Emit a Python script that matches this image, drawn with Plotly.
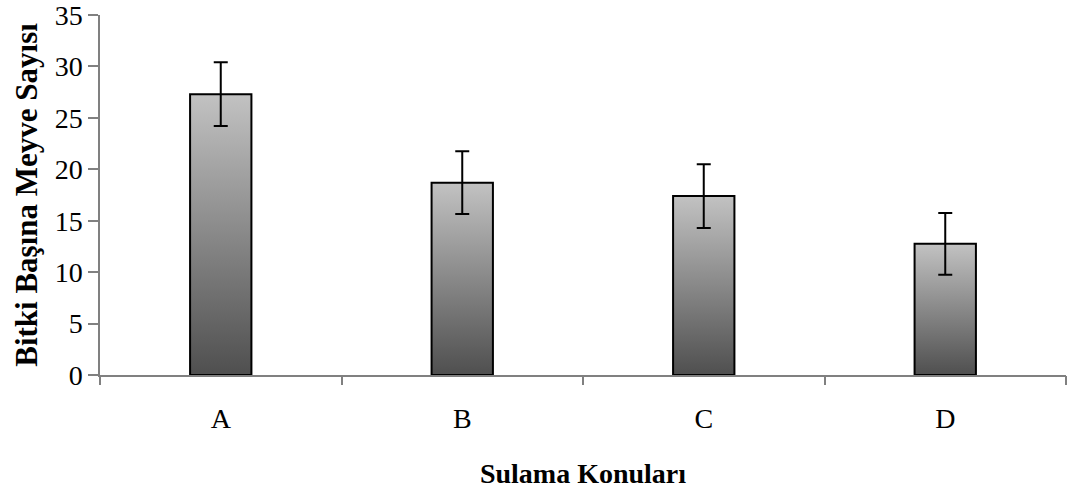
import plotly.graph_objects as go

categories = ["A", "B", "C", "D"]
means = [27.3, 18.7, 17.4, 12.75]
errors = [3.1, 3.05, 3.1, 3.0]
y_ticks = [0, 5, 10, 15, 20, 25, 30, 35]

half_w = 0.127
font_family = "Liberation Serif, Times New Roman, serif"

fig = go.Figure()

for i, (cat, m) in enumerate(zip(categories, means)):
    fig.add_trace(go.Scatter(
        x=[i - half_w, i + half_w, i + half_w, i - half_w, i - half_w],
        y=[0, 0, m, m, 0],
        mode="lines",
        fill="toself",
        fillgradient=dict(type="vertical",
                          colorscale=[[0, "#4f4f4f"], [1, "#c2c2c2"]]),
        line=dict(color="black", width=2),
        showlegend=False,
        hoverinfo="skip",
    ))

fig.add_trace(go.Scatter(
    x=list(range(len(categories))),
    y=means,
    mode="markers",
    marker=dict(size=1, opacity=0),
    error_y=dict(type="data", array=errors, visible=True,
                 color="black", thickness=2, width=7),
    showlegend=False,
))

fig.update_layout(
    width=1067, height=498,
    margin=dict(l=100, r=1, t=15, b=123),
    plot_bgcolor="white", paper_bgcolor="white",
    font=dict(family=font_family, size=28, color="black"),
    xaxis=dict(
        range=[-0.5, 3.5],
        tickvals=list(range(len(categories))),
        ticktext=categories,
        ticks="",
        ticklabelstandoff=18,
        showline=True, linecolor="#808080", linewidth=1.5,
        showgrid=False, zeroline=False,
        title=dict(text="<b>Sulama Konuları</b>", standoff=30,
                   font=dict(size=28)),
        tickfont=dict(size=28),
    ),
    xaxis2=dict(
        overlaying="x", matches="x", side="bottom",
        range=[-0.5, 3.5],
        tickvals=[-0.5, 0.5, 1.5, 2.5, 3.5],
        showticklabels=False,
        ticks="outside", ticklen=9, tickcolor="#808080", tickwidth=1.5,
        showline=False, showgrid=False, zeroline=False,
    ),
    yaxis=dict(
        range=[0, 35],
        tickvals=y_ticks,
        ticks="outside", ticklen=10, tickcolor="#808080", tickwidth=1.5,
        showline=True, linecolor="#808080", linewidth=1.5,
        showgrid=False, zeroline=False,
        ticklabeloverflow="allow",
        tickfont=dict(size=28),
        title=dict(text="<b>Bitki Başına Meyve Sayısı</b>", standoff=8,
                   font=dict(size=31)),
    ),
)

# invisible trace to activate xaxis2
fig.add_trace(go.Scatter(x=[0], y=[0], xaxis="x2", mode="markers",
                         marker=dict(opacity=0), showlegend=False,
                         hoverinfo="skip"))

fig.write_html(
    "out.html",
    config={"displayModeBar": False},
    post_script="document.body.style.margin='0';document.body.style.overflow='hidden';",
)
